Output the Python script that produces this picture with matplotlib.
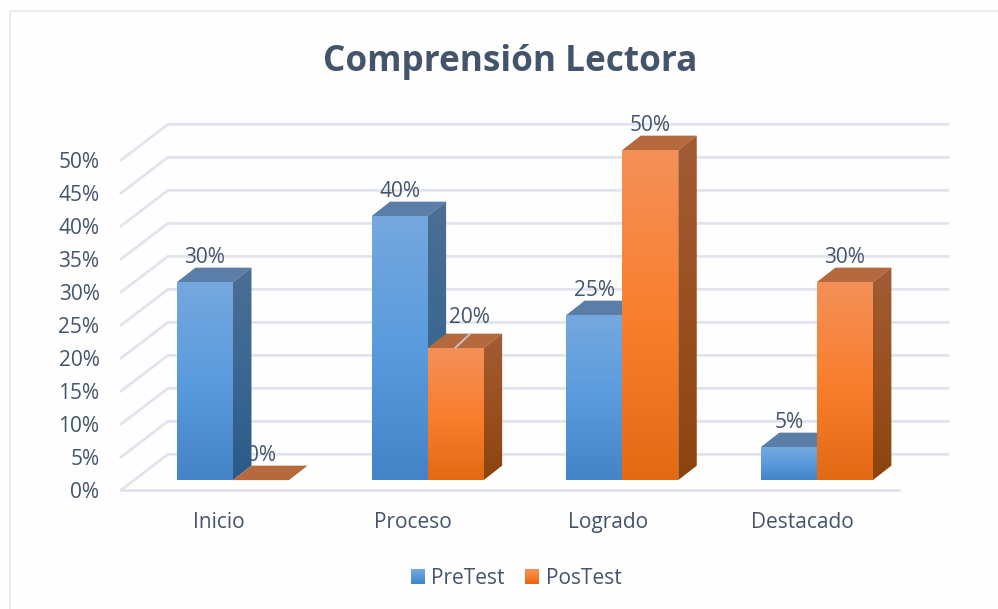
import numpy as np
import matplotlib
matplotlib.use("Agg")
import matplotlib.pyplot as plt
from matplotlib.colors import LinearSegmentedColormap
from matplotlib.legend_handler import HandlerBase
from matplotlib.lines import Line2D
from matplotlib.patches import Patch, Polygon, Rectangle

plt.rcParams['font.family'] = ['Open Sans', 'DejaVu Sans']

categories = ["Inicio", "Proceso", "Logrado", "Destacado"]
pretest = [30, 40, 25, 5]
postest = [0, 20, 50, 30]
y_levels = [0, 5, 10, 15, 20, 25, 30, 35, 40, 45, 50]

TEXT = "#44546A"
GRID = "#E1E4EC"
BAR_W = 0.288     # category units
BAR_DX = 0.095    # bar depth
BAR_DY = 2.19
FLOOR_DX = 0.2415 # depth of the chart box
FLOOR_DY = 5.4
FLOOR_Y = -1.5
FLOOR_RIGHT = 3.422

blue = {"front": ["#75A8DF", "#5A9BDD", "#4484C6"], "side": ["#4C6E94", "#3A6892", "#2A5A88"], "top": "#5A7EA8"}
orange = {"front": ["#F49058", "#F97F2F", "#E36A14"], "side": ["#A25C34", "#9A5020", "#8B440E"], "top": "#B5693D"}


def gradient_poly(ax, pts, colors, z):
    # vertical gradient clipped to the polygon
    pts = np.array(pts)
    cmap = LinearSegmentedColormap.from_list("g", colors)
    grad = np.linspace(0, 1, 256).reshape(-1, 1)
    im = ax.imshow(grad, cmap=cmap, aspect="auto", origin="upper", zorder=z,
                   extent=(pts[:, 0].min(), pts[:, 0].max(), pts[:, 1].min(), pts[:, 1].max()))
    clip = Polygon(pts, transform=ax.transData)
    im.set_clip_path(clip)


def draw_bar(ax, x0, v, style, z):
    x1 = x0 + BAR_W
    top = [(x0, v), (x1, v), (x1 + BAR_DX, v + BAR_DY), (x0 + BAR_DX, v + BAR_DY)]
    ax.add_patch(Polygon(top, facecolor=style["top"], edgecolor="none", zorder=z))
    if v > 0:
        gradient_poly(ax, [(x0, 0), (x1, 0), (x1, v), (x0, v)], style["front"], z)
        gradient_poly(ax, [(x1, 0), (x1 + BAR_DX, BAR_DY), (x1 + BAR_DX, v + BAR_DY), (x1, v)], style["side"], z)


class GradientSquare(HandlerBase):
    # legend key with the same gradient as the bars
    def create_artists(self, legend, orig_handle, xdescent, ydescent, width, height, fontsize, trans):
        cmap = LinearSegmentedColormap.from_list("g", orig_handle.colors)
        n = 14
        return [Rectangle((xdescent, ydescent + height * (n - 1 - k) / n), width, height / n + 0.3,
                          facecolor=cmap(k / (n - 1)), edgecolor="none", transform=trans) for k in range(n)]


fig = plt.figure(figsize=(9.98, 6.09), dpi=100, facecolor="#FEFEFE")
ax = fig.add_axes([121 / 998, 119 / 609, 827 / 998, 365.5 / 609])
ax.patch.set_visible(False)
for s in ax.spines.values():
    s.set_visible(False)

# outer chart frame, top and left only
fig.add_artist(Line2D([10 / 998, 10 / 998, 1], [0, 1 - 11 / 609, 1 - 11 / 609], color="#E3E7EC", lw=1.2))

x_left = -0.5755
for v in y_levels:
    ax.plot([x_left, x_left + FLOOR_DX, 3.674], [v + FLOOR_Y, v + FLOOR_Y + FLOOR_DY, v + FLOOR_Y + FLOOR_DY],
            color=GRID, lw=2, zorder=1, clip_on=False, solid_joinstyle="miter")
ax.plot([x_left, FLOOR_RIGHT], [FLOOR_Y, FLOOR_Y], color=GRID, lw=2, zorder=1, clip_on=False)

for i in range(len(categories)):
    draw_bar(ax, i - BAR_W, pretest[i], blue, 3)
    draw_bar(ax, i, postest[i], orange, 3.1)

    ax.text(i - BAR_W / 2, pretest[i] + 3.7, f"{pretest[i]}%", ha="center", va="center",
            fontsize=15, color=TEXT, zorder=5)
    if postest[i] == 20:
        # this label was moved by hand in the original, it has a leader line
        ax.plot([i + BAR_W / 2, i + BAR_W / 2 + 0.072], [postest[i] + 0.1, postest[i] + 2.1],
                color="#C4C8CE", lw=1.3, zorder=5)
        ax.text(i + BAR_W / 2 + 0.072, postest[i] + 4.6, f"{postest[i]}%", ha="center", va="center",
                fontsize=15, color=TEXT, zorder=5)
    else:
        # the 0% label sits behind the blue bar
        ax.text(i + BAR_W / 2, postest[i] + 3.7, f"{postest[i]}%", ha="center", va="center",
                fontsize=15, color=TEXT, zorder=2 if postest[i] == 0 else 5)

ax.set_xlim(x_left, 3.674)
ax.set_ylim(FLOOR_Y, 53.88)
ax.set_xticks(np.arange(len(categories)) - 0.0745)
ax.set_xticklabels(categories)
ax.set_yticks(np.array(y_levels) + FLOOR_Y)
ax.set_yticklabels([f"{v}%" for v in y_levels])
ax.tick_params(axis="x", length=0, pad=16, labelsize=15, labelcolor=TEXT)
ax.tick_params(axis="y", length=0, pad=15.5, labelsize=15, labelcolor=TEXT)

fig.text(510.5 / 998, 1 - 62 / 609, "Comprensión Lectora", ha="center", va="center",
         fontsize=25.3, fontweight="bold", color=TEXT)

handles = [Patch(label="PreTest"), Patch(label="PosTest")]
handles[0].colors = blue["front"]
handles[1].colors = orange["front"]
fig.legend(handles=handles, loc="center", bbox_to_anchor=(516 / 998, 1 - 578 / 609), ncol=2, frameon=False,
           fontsize=15, labelcolor=TEXT, handlelength=0.67, handleheight=0.67, handletextpad=0.3,
           columnspacing=1.0, handler_map={Patch: GradientSquare()})

fig.savefig("out.png", dpi=100, facecolor=fig.get_facecolor())
